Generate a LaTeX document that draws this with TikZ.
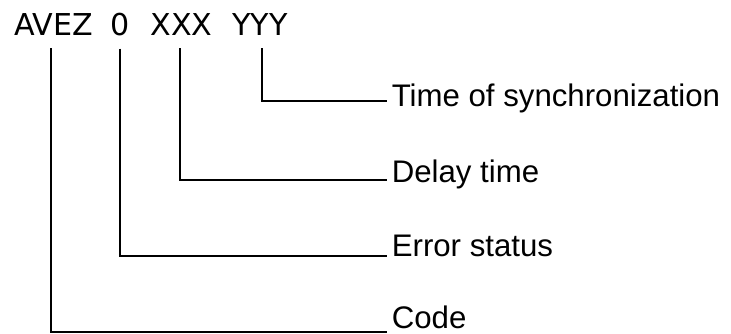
\documentclass[tikz,border=0pt]{standalone}
\usepackage{fontspec}
\setmainfont{Liberation Sans}
\newfontfamily\fieldfont{DejaVu Sans}

\begin{document}
\begin{tikzpicture}[x=0.75pt, y=-0.75pt,
		field/.style={inner sep=0pt, anchor=base, font=\fontsize{22.6}{27}\fieldfont},
		meaning/.style={inner xsep=3.4pt, inner ysep=0pt, anchor=base west, font=\fontsize{23.4}{28}\selectfont},
		lead/.style={line width=1pt}]
		\useasboundingbox (0, 0) rectangle (731, 334);

		% Message fields
		\node[field] (avez) at (53.5, 36){AVEZ};
		\node[field] (err) at (120, 36){0};
		\node[field] (xxx) at (181.5, 36){XXX};
		\node[field] (yyy) at (260, 36){YYY};

		% Meanings
		\node[meaning] (sync) at (387, 107){Time of synchronization};
		\node[meaning] (delay) at (387, 183){Delay time};
		\node[meaning] (status) at (387, 257){Error status};
		\node[meaning] (code) at (387, 329){Code};

		% Leaders
		\draw[lead] (yyy.south) ++(2, 12) |- ([yshift=4.5pt]sync.base west);
		\draw[lead] (xxx.south) ++(-1.5, 12) |- ([yshift=2.25pt]delay.base west);
		\draw[lead] (err.south) ++(0, 12) |- ([yshift=0.75pt]status.base west);
		\draw[lead] (avez.south) ++(-2.5, 12) |- ([yshift=-2.25pt]code.base west);
	\end{tikzpicture}
\end{document}
